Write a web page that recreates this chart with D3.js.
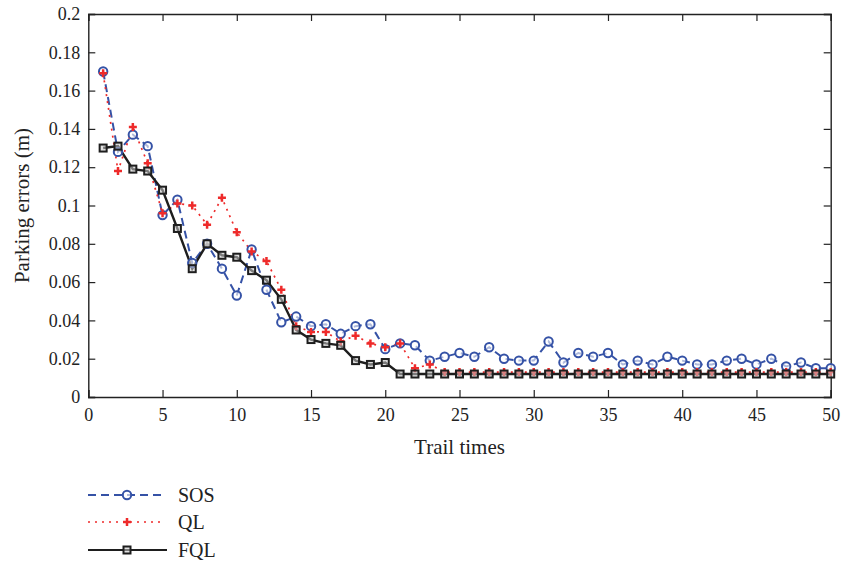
<!DOCTYPE html>
<html><head><meta charset="utf-8">
<script src="https://cdn.jsdelivr.net/npm/d3@7"></script>
<style>body{margin:0;background:#fff}svg{display:block}text{font-family:"Liberation Serif","DejaVu Serif",serif;fill:#222}</style>
</head><body>
<svg id="c" width="843" height="562"></svg>
<script>
const trials = d3.range(1, 51);
const sos = [0.170,0.128,0.137,0.131,0.095,0.103,0.070,0.080,0.067,0.053,
 0.077,0.056,0.039,0.042,0.037,0.038,0.033,0.037,0.038,0.025,
 0.028,0.027,0.019,0.021,0.023,0.021,0.026,0.020,0.019,0.019,
 0.029,0.018,0.023,0.021,0.023,0.017,0.019,0.017,0.021,0.019,
 0.017,0.017,0.019,0.020,0.017,0.020,0.016,0.018,0.015,0.015];
const ql = [0.169,0.118,0.141,0.122,0.096,0.101,0.100,0.090,0.104,0.086,
 0.076,0.071,0.056,0.037,0.034,0.034,0.029,0.032,0.028,0.026,
 0.028,0.015,0.017,0.013,0.013,0.013,0.013,0.013,0.013,0.013,
 0.013,0.013,0.013,0.013,0.013,0.013,0.013,0.013,0.013,0.013,
 0.013,0.013,0.013,0.013,0.013,0.013,0.013,0.013,0.013,0.013];
const fql = [0.130,0.131,0.119,0.118,0.108,0.088,0.067,0.080,0.074,0.073,
 0.066,0.061,0.051,0.035,0.030,0.028,0.027,0.019,0.017,0.018,
 0.012,0.012,0.012,0.012,0.012,0.012,0.012,0.012,0.012,0.012,
 0.012,0.012,0.012,0.012,0.012,0.012,0.012,0.012,0.012,0.012,
 0.012,0.012,0.012,0.012,0.012,0.012,0.012,0.012,0.012,0.012];
const xTicks = [0,5,10,15,20,25,30,35,40,45,50];
const yTicks = [0,0.02,0.04,0.06,0.08,0.1,0.12,0.14,0.16,0.18,0.2];
const seriesNames = ["SOS","QL","FQL"];

const svg = d3.select("#c");
const L=88.3, R=830.7, T=14, B=397;
const x = d3.scaleLinear().domain([0,50]).range([L,R]);
const y = d3.scaleLinear().domain([0,0.2]).range([B,T]);
const tl = 7;
const FONT='"Liberation Serif","DejaVu Serif",serif';

const g = svg.append("g");
const axB = g.append("g").attr("transform",`translate(0,${B})`)
  .call(d3.axisBottom(x).tickValues(xTicks).tickSize(-tl).tickPadding(11).tickFormat(d3.format("d")));
const axT = g.append("g").attr("transform",`translate(0,${T})`)
  .call(d3.axisTop(x).tickValues(xTicks).tickSize(-tl).tickFormat(""));
const axL = g.append("g").attr("transform",`translate(${L},0)`)
  .call(d3.axisLeft(y).tickValues(yTicks).tickSize(-tl).tickPadding(8).tickFormat(d=>d===0?"0":String(+d.toFixed(2))));
const axR = g.append("g").attr("transform",`translate(${R},0)`)
  .call(d3.axisRight(y).tickValues(yTicks).tickSize(-tl).tickFormat(""));
[axB,axT,axL,axR].forEach(a=>{
  a.select(".domain").attr("stroke","#222").attr("stroke-width",1.4);
  a.selectAll(".tick line").attr("stroke","#222").attr("stroke-width",1.2);
  a.selectAll("text").attr("font-size",18).attr("fill","#222").style("font-family",FONT);
});

const line = d3.line().x((d,i)=>x(trials[i])).y(d=>y(d));
const blue="#3552a6", red="#ee2a2a", black="#1e1e1e";

g.append("path").datum(sos).attr("d",line).attr("fill","none").attr("stroke",blue)
  .attr("stroke-width",2).attr("stroke-dasharray","8,5");
g.append("path").datum(ql).attr("d",line).attr("fill","none").attr("stroke",red)
  .attr("stroke-width",1.7).attr("stroke-dasharray","2,5");
g.append("path").datum(fql).attr("d",line).attr("fill","none").attr("stroke",black)
  .attr("stroke-width",2.4);

function circ(sel,cx,cy){sel.append("circle").attr("cx",cx).attr("cy",cy).attr("r",4.2)
  .attr("fill","#fff").attr("fill-opacity",0.6).attr("stroke",blue).attr("stroke-width",2);}
function plus(sel,cx,cy){const s=4;sel.append("path").attr("d",`M${cx-s},${cy}H${cx+s}M${cx},${cy-s}V${cy+s}`)
  .attr("stroke",red).attr("stroke-width",2.5);}
function sq(sel,cx,cy){sel.append("rect").attr("x",cx-3.5).attr("y",cy-3.5).attr("width",7).attr("height",7)
  .attr("fill","#c8c8c8").attr("fill-opacity",0.55).attr("stroke",black).attr("stroke-width",2);}

sos.forEach((v,i)=>circ(g,x(trials[i]),y(v)));
ql.forEach((v,i)=>plus(g,x(trials[i]),y(v)));
fql.forEach((v,i)=>sq(g,x(trials[i]),y(v)));

svg.append("text").attr("x",(L+R)/2).attr("y",454).attr("text-anchor","middle").attr("font-size",21).text("Trail times");
svg.append("text").attr("transform",`translate(29,${(T+B)/2}) rotate(-90)`).attr("text-anchor","middle").attr("font-size",21).text("Parking errors (m)");

const lg = svg.append("g");
const ly = [495,522,550];
const lx0=88, lx1=163, lm=127;
lg.append("line").attr("x1",lx0).attr("x2",lx1).attr("y1",ly[0]).attr("y2",ly[0]).attr("stroke",blue).attr("stroke-width",2).attr("stroke-dasharray","8,5");
circ(lg,lm,ly[0]);
lg.append("line").attr("x1",lx0).attr("x2",lx1).attr("y1",ly[1]).attr("y2",ly[1]).attr("stroke",red).attr("stroke-width",1.7).attr("stroke-dasharray","2,5");
plus(lg,lm,ly[1]);
lg.append("line").attr("x1",lx0).attr("x2",lx1+4).attr("y1",ly[2]).attr("y2",ly[2]).attr("stroke",black).attr("stroke-width",2.2);
sq(lg,lm,ly[2]);
seriesNames.forEach((n,i)=>lg.append("text").attr("x",178).attr("y",ly[i]+7).attr("font-size",20).text(n));
</script>
</body></html>
